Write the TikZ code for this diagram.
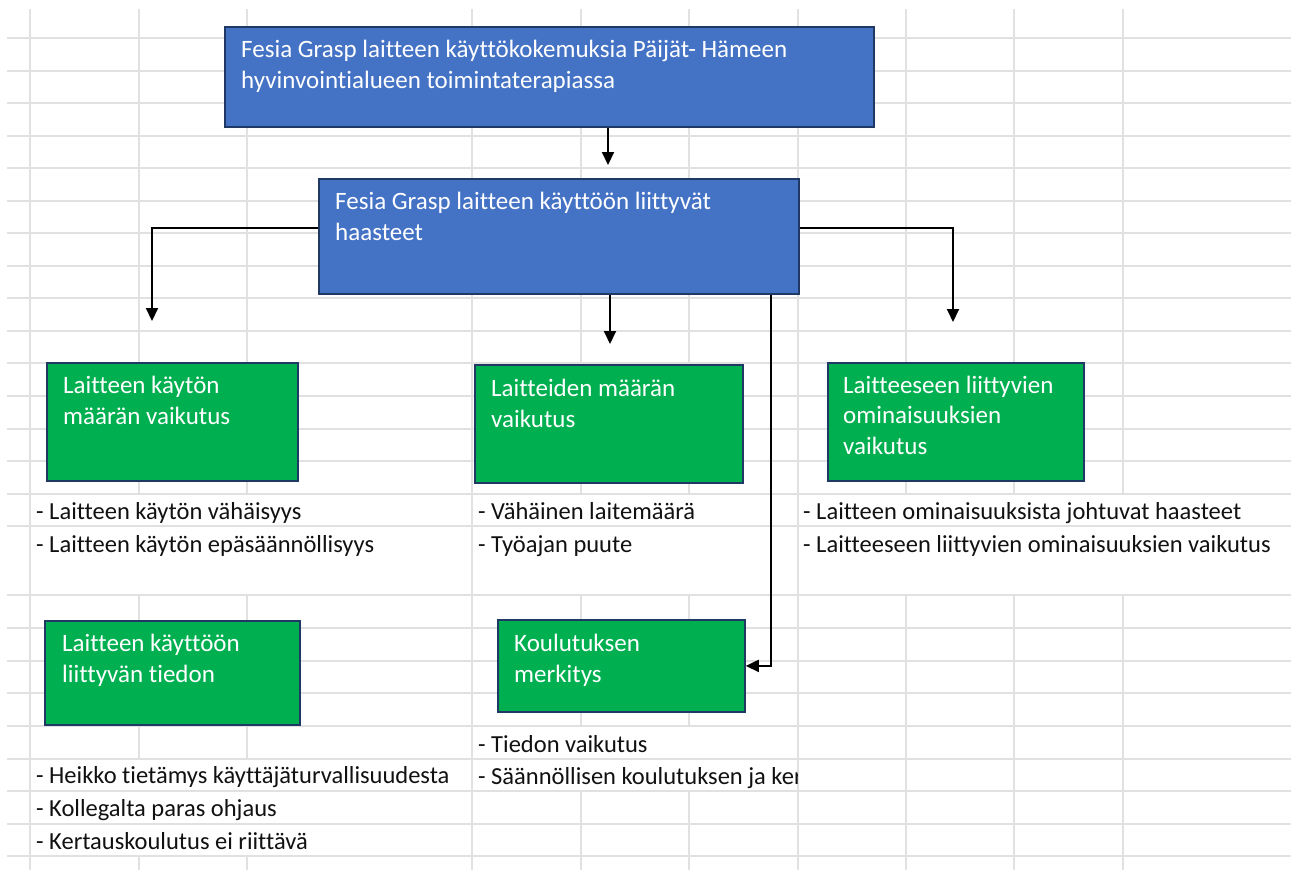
\documentclass[tikz,border=0pt]{standalone}
\usepackage{fontspec}
\setmainfont{Carlito}[Ligatures=NoCommon]
\usetikzlibrary{arrows.meta}
\definecolor{gridc}{HTML}{E1E1E1}
\definecolor{boxblue}{HTML}{4472C4}
\definecolor{boxgreen}{HTML}{00B050}
\definecolor{boxedge}{HTML}{1F3864}
\definecolor{listc}{HTML}{111111}
\tikzset{
  gridline/.style={draw=gridc, line width=1.2pt},
  bluebox/.style={draw=boxedge, fill=boxblue, line width=2.2pt, inner sep=0pt, anchor=north west},
  greenbox/.style={draw=boxedge, fill=boxgreen, line width=1.8pt, inner sep=0pt, anchor=north west},
  boxtext/.style={text=white, inner sep=0pt, anchor=base west, align=left, font=\fontsize{25}{31}\selectfont},
  listtext/.style={text=listc, inner sep=0pt, anchor=base west, font=\fontsize{24.5}{31}\selectfont},
  conn/.style={draw=black, line width=2pt},
  arr/.style={conn, -{Triangle[width=12pt,length=13pt]}},
}
\begin{document}
\begin{tikzpicture}[x=1pt,y=-1pt]
\useasboundingbox (0,0) rectangle (1291,870);
\fill[white] (0,0) rectangle (1291,870);
% grid
\foreach \y in {38,71,103,136,168,201,233,266,298,331,363,396,429,461,494,526,595,628,661,693,726,759,791,824,856}
  \draw[gridline] (7,\y) -- (1291,\y);
\foreach \x in {30,139,247,472,581,689,798,906,1014,1123}
  \draw[gridline] (\x,9) -- (\x,870);
% grid lines hidden by overflowing text
\fill[white] (31,494.7) rectangle (471,525.3);
\fill[white] (31,526.7) rectangle (471,594.3);
\fill[white] (473,494.7) rectangle (797,525.3);
\fill[white] (473,526.7) rectangle (797,594.3);
\fill[white] (799,494.7) rectangle (1291,525.3);
\fill[white] (799,526.7) rectangle (1291,594.3);
\fill[white] (473,726.7) rectangle (797,758.3);
\fill[white] (473,759.7) rectangle (797,790.3);
\fill[white] (31,759.7) rectangle (471,790.3);
\fill[white] (31,791.7) rectangle (471,823.3);
\fill[white] (31,824.7) rectangle (471,855.3);

% boxes
\node[bluebox, minimum width=649pt, minimum height=100pt] (b1) at (224,26) {};
\node[bluebox, minimum width=480pt, minimum height=115pt] (b2) at (318,178) {};
\node[greenbox, minimum width=251pt, minimum height=118pt] (g1) at (46,362) {};
\node[greenbox, minimum width=268pt, minimum height=118pt] (g2) at (474,364) {};
\node[greenbox, minimum width=256pt, minimum height=118pt] (g3) at (827,362) {};
\node[greenbox, minimum width=255pt, minimum height=104pt] (g4) at (44,620) {};
\node[greenbox, minimum width=247pt, minimum height=92pt] (g5) at (497,619) {};

% box texts (anchored at the baseline of the last line)
\node[boxtext] (b1t) at (241,88) {Fesia Grasp laitteen käyttökokemuksia Päijät- Hämeen\\hyvinvointialueen toimintaterapiassa};
\node[boxtext] (b2t) at (335,240) {Fesia Grasp laitteen käyttöön liittyvät\\haasteet};
\node[boxtext] (g1t) at (63,424) {Laitteen käytön\\määrän vaikutus};
\node[boxtext] (g2t) at (491,427) {Laitteiden määrän\\vaikutus};
\node[boxtext, font=\fontsize{25}{30.5}\selectfont] (g3t) at (843,454) {Laitteeseen liittyvien\\ominaisuuksien\\vaikutus};
\node[boxtext] (g4t) at (62,682) {Laitteen käyttöön\\liittyvän tiedon};
\node[boxtext] (g5t) at (514,682) {Koulutuksen\\merkitys};

% list texts
\node[listtext] (l1) at (36,519) {- Laitteen käytön vähäisyys};
\node[listtext] (l2) at (36,552) {- Laitteen käytön epäsäännöllisyys};
\node[listtext] (m1) at (478,519) {- Vähäinen laitemäärä};
\node[listtext] (m2) at (478,552) {- Työajan puute};
\node[listtext] (r1) at (803,519) {- Laitteen ominaisuuksista johtuvat haasteet};
\node[listtext] (r2) at (803,552) {- Laitteeseen liittyvien ominaisuuksien vaikutus};
\node[listtext] (m3) at (478,752) {- Tiedon vaikutus};
\begin{scope}
\clip (0,0) rectangle (797,870);
\node[listtext] (m4) at (478,784) {- Säännöllisen koulutuksen ja ker};
\end{scope}
\node[listtext] (l3) at (36,783) {- Heikko tietämys käyttäjäturvallisuudesta};
\node[listtext] (l4) at (36,816) {- Kollegalta paras ohjaus};
\node[listtext] (l5) at (36,849) {- Kertauskoulutus ei riittävä};

% connectors
\coordinate (t1) at (608,165);
\coordinate (t2) at (152,321);
\coordinate (t3) at (610,344);
\coordinate (t4) at (953,322);
\coordinate (y1) at (0,227.5);
\coordinate (v1) at (771,0);
\draw[arr] (b1.south -| t1) -- (t1);
\draw[arr] (b2.west |- y1) -| (t2);
\draw[arr] (b2.south -| t3) -- (t3);
\draw[arr] (b2.east |- y1) -| (t4);
\draw[arr] (b2.south -| v1) |- (g5.east);
\end{tikzpicture}
\end{document}
